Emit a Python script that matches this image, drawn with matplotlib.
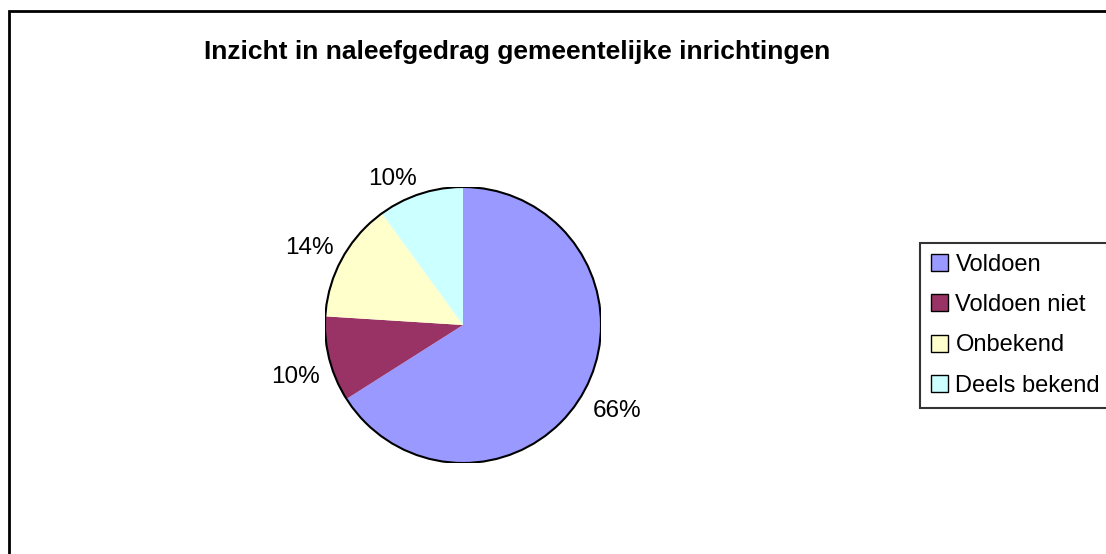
import numpy as np
import matplotlib.pyplot as plt
from matplotlib.patches import Circle, Rectangle

plt.rcParams['font.family'] = ['Liberation Sans', 'DejaVu Sans']

# data
title = 'Inzicht in naleefgedrag gemeentelijke inrichtingen'
categories = ['Voldoen', 'Voldoen niet', 'Onbekend', 'Deels bekend']
shares = [66, 10, 14, 10]
colors = ['#9999FF', '#993366', '#FFFFCC', '#CCFFFF']

W, H = 1106, 554
fig = plt.figure(figsize=(W / 100, H / 100), dpi=100)
fig.patch.set_facecolor('white')

# chart area border (runs off right and bottom edge)
fig.patches.append(Rectangle((9 / W, -0.1), 1.2, 1 - 11 / H + 0.1,
                             transform=fig.transFigure, fill=False,
                             edgecolor='black', linewidth=2))

fig.text(517 / W, 1 - 52 / H, title, ha='center', va='center',
         fontsize=19, fontweight='bold')

# pie: center (463, 325), radius 138 px
cx, cy, r = 463, 325, 138
ax = fig.add_axes([(cx - r) / W, (H - cy - r) / H, 2 * r / W, 2 * r / H])
wedges, texts, autotexts = ax.pie(
    shares, colors=colors, startangle=90, counterclock=False,
    autopct='%1.0f%%', wedgeprops=dict(linewidth=0),
    textprops=dict(fontsize=17.5))
ax.add_patch(Circle((0, 0), 1, fill=False, edgecolor='black', linewidth=1.5))
ax.set_xlim(-1, 1)
ax.set_ylim(-1, 1)
ax.axis('off')

# labels just outside the rim, anchored by the side facing the pie
for w, t in zip(wedges, autotexts):
    ang = np.deg2rad((w.theta1 + w.theta2) / 2)
    c, s = np.cos(ang), np.sin(ang)
    t.set_position((1.07 * c, 1.06 * s - 0.03))
    t.set_ha('left' if c > 0 else 'right')
    t.set_va('bottom' if s > 0 else 'top')
    t.set_clip_on(False)

leg = fig.legend(wedges, categories, loc='upper left',
                 bbox_to_anchor=(920 / W, 1 - 243 / H),
                 frameon=True, fancybox=False, fontsize=17,
                 handlelength=0.75, handleheight=0.75, handletextpad=0.3,
                 labelspacing=0.78, borderpad=0.45, borderaxespad=0)
leg.get_frame().set_edgecolor('black')
leg.get_frame().set_linewidth(1.5)
for h in leg.legend_handles:
    h.set_edgecolor('black')
    h.set_linewidth(1)

fig.savefig('out.png', dpi=100, facecolor='white')
